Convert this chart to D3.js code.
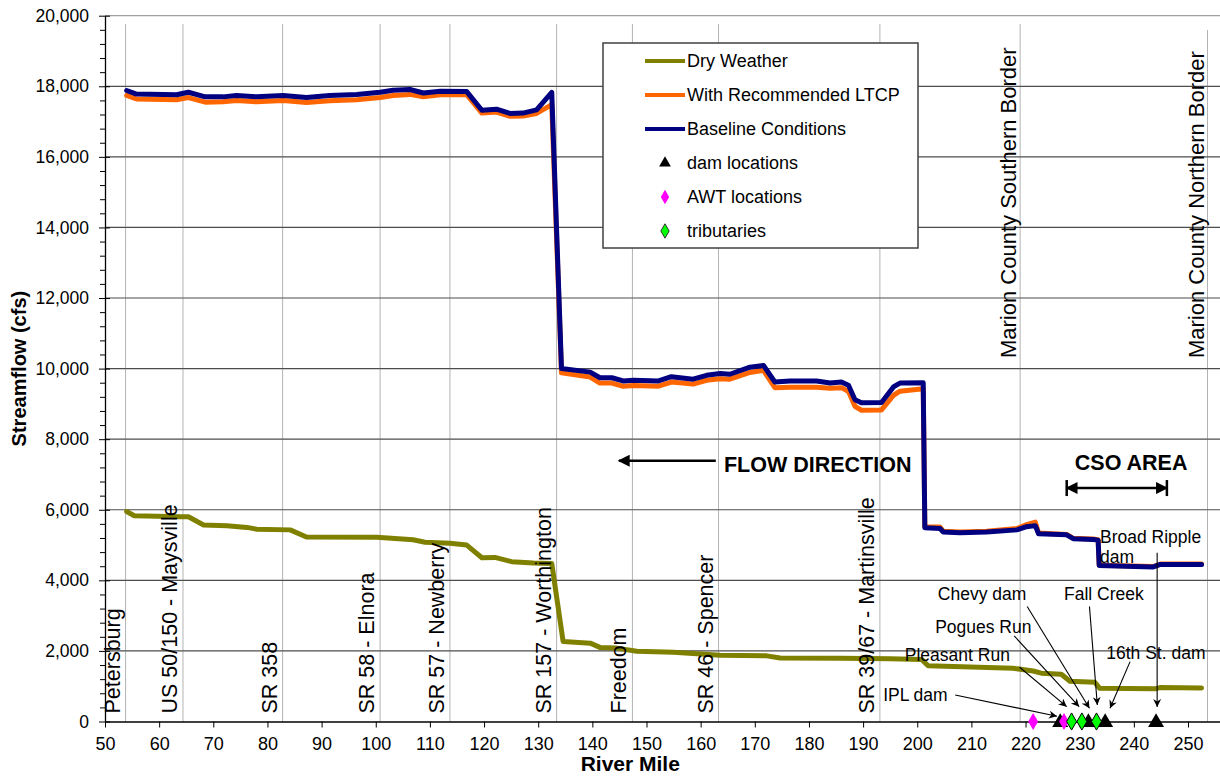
<!DOCTYPE html>
<html>
<head>
<meta charset="utf-8">
<script src="https://cdn.jsdelivr.net/npm/d3@7/dist/d3.min.js"></script>
<style>
  body { margin: 0; background: #fff; }
  svg text { font-family: "Liberation Sans", Arial, sans-serif; fill: #000; }
</style>
</head>
<body>
<div id="chart"></div>
<script>
// [river mile, streamflow cfs]
var baseline = [
  [54.0, 17880], [55.8, 17780], [63.2, 17760], [65.4, 17830], [68.5, 17700], [71.8, 17700],
  [74.3, 17740], [78.0, 17700], [82.9, 17740], [87.2, 17680], [91.5, 17740], [96.5, 17770],
  [100.8, 17830], [103.2, 17890], [106.3, 17910], [108.8, 17810], [111.9, 17860], [116.8, 17850],
  [119.6, 17320], [122.3, 17350], [124.8, 17230], [127.2, 17240], [129.7, 17330], [132.5, 17830],
  [134.3, 10000], [139.6, 9900], [141.4, 9740], [143.6, 9740], [145.7, 9650], [147.6, 9670],
  [152.2, 9650], [154.6, 9770], [158.6, 9700], [161.1, 9810], [163.6, 9860], [165.4, 9840],
  [169.1, 10040], [171.6, 10090], [173.7, 9620], [176.5, 9650], [181.4, 9650], [183.9, 9590],
  [186.0, 9620], [187.3, 9530], [188.5, 9120], [189.7, 9030], [193.4, 9040], [195.6, 9480],
  [196.8, 9590], [201.1, 9600], [201.4, 5490], [204.2, 5470], [204.8, 5370], [207.9, 5350],
  [212.8, 5370], [218.4, 5430], [220.2, 5520], [221.8, 5550], [222.4, 5320], [227.6, 5290],
  [228.8, 5180], [232.5, 5160], [233.4, 5140], [233.6, 4420], [243.6, 4380], [244.9, 4450],
  [252.5, 4450]
];

var ltcp = [
  [54.0, 17740], [55.8, 17640], [63.2, 17620], [65.4, 17680], [68.5, 17550], [71.8, 17560],
  [74.3, 17600], [78.0, 17560], [82.9, 17600], [87.2, 17540], [91.5, 17590], [96.5, 17620],
  [100.8, 17680], [103.2, 17740], [106.3, 17770], [108.8, 17700], [111.9, 17760], [116.8, 17760],
  [119.6, 17240], [122.3, 17270], [124.8, 17150], [127.2, 17160], [129.7, 17230], [132.5, 17480],
  [134.3, 9880], [139.6, 9760], [141.4, 9590], [143.6, 9590], [145.7, 9500], [147.6, 9520],
  [152.2, 9500], [154.6, 9620], [158.6, 9560], [161.1, 9670], [163.6, 9710], [165.4, 9700],
  [169.1, 9890], [171.6, 9950], [173.7, 9460], [176.5, 9470], [181.4, 9470], [183.9, 9440],
  [186.0, 9460], [187.3, 9350], [188.5, 8930], [189.7, 8820], [193.4, 8830], [195.6, 9240],
  [196.8, 9360], [201.1, 9430], [201.4, 5510], [204.2, 5510], [204.8, 5390], [207.9, 5370],
  [212.8, 5390], [218.4, 5470], [220.2, 5580], [221.8, 5650], [222.4, 5340], [227.6, 5300],
  [228.8, 5190], [232.5, 5170], [233.4, 5150], [233.6, 4430], [243.6, 4390], [244.9, 4460],
  [252.5, 4460]
];

var dryWeather = [
  [54.0, 5950], [55.4, 5830], [63.9, 5800], [65.4, 5800], [68.2, 5570], [72.5, 5550],
  [76.2, 5500], [78.0, 5450], [84.2, 5430], [87.2, 5230], [100.2, 5220], [106.9, 5150],
  [109.1, 5080], [113.7, 5050], [116.8, 5000], [119.6, 4640], [122.0, 4650], [125.1, 4530],
  [129.1, 4490], [132.5, 4480], [134.6, 2270], [139.6, 2220], [141.4, 2100], [144.5, 2080],
  [148.2, 1990], [155.0, 1960], [163.6, 1880], [172.2, 1860], [174.7, 1800], [185.8, 1790],
  [195.0, 1780], [200.8, 1760], [202.0, 1580], [217.7, 1510], [221.4, 1430], [222.9, 1370],
  [226.6, 1340], [228.2, 1140], [232.8, 1110], [233.7, 940], [243.9, 925], [244.8, 960],
  [252.5, 950]
];

var damMiles = [226.4, 231.6, 234.7, 244.1];
var awtMiles = [221.4, 227.1];
var tribMiles = [228.5, 230.4, 233.1];

var landmarks = [
  { mile: 53.8, name: "Petersburg" },
  { mile: 64.4, name: "US 50/150 - Maysville" },
  { mile: 82.8, name: "SR 358" },
  { mile: 100.8, name: "SR 58 - Elnora" },
  { mile: 113.7, name: "SR 57 - Newberry" },
  { mile: 133.4, name: "SR 157 - Worthington" },
  { mile: 147.4, name: "Freedom" },
  { mile: 163.3, name: "SR 46 - Spencer" },
  { mile: 193.1, name: "SR 39/67 - Martinsville" }
];
var borders = [
  { mile: 219.0, name: "Marion County Southern Border" },
  { mile: 253.6, name: "Marion County Northern Border" }
];

// callouts: label anchor, arrow start, arrow end (mile, cfs)
var callouts = [
  { text: ["IPL dam"], at: [193.7, 590], from: [207.0, 752], to: [225.8, 150] },
  { text: ["Pleasant Run"], at: [197.7, 1725], from: [218.9, 1538], to: [227.6, 420] },
  { text: ["Pogues Run"], at: [203.3, 2502], from: [217.9, 2426], to: [229.9, 420] },
  { text: ["Chevy dam"], at: [203.8, 3447], from: [220.3, 3257], to: [231.8, 374] },
  { text: ["Fall Creek"], at: [227.1, 3447], from: [231.8, 3257], to: [233.25, 468] },
  { text: ["16th St. dam"], at: [234.9, 1765], from: [239.3, 1696], to: [235.6, 374] },
  { text: ["Broad Ripple", "dam"], at: [233.75, 5055], from: [244.3, 4780], to: [244.3, 411] }
];

var legendItems = [
  { name: "Dry Weather", type: "line", color: "#808000" },
  { name: "With Recommended LTCP", type: "line", color: "#ff6600" },
  { name: "Baseline Conditions", type: "line", color: "#000080" },
  { name: "dam locations", type: "tri", color: "#000" },
  { name: "AWT locations", type: "dia", color: "#ff00ff" },
  { name: "tributaries", type: "dia", color: "#00ff00" }
];

var xTicks = d3.range(50, 251, 10);
var yTicks = d3.range(0, 20001, 2000);
var yMinor = d3.range(0, 20001, 400).filter(function (v) { return v % 2000 != 0; });

var margin = { top: 15.7, left: 105 },
  width = 1115.5,
  height = 705.8;

var svg = d3.select("#chart")
  .append("svg")
  .attr("width", 1220)
  .attr("height", 778);

var defs = svg.append("defs");
defs.append("marker")
  .attr("id", "tip")
  .attr("viewBox", "0 0 10 10")
  .attr("refX", 10).attr("refY", 5)
  .attr("markerWidth", 10).attr("markerHeight", 8)
  .attr("markerUnits", "userSpaceOnUse")
  .attr("orient", "auto")
  .append("path").attr("d", "M0,0 L10,5 L0,10 L3,5 z").attr("fill", "#000");
defs.append("marker")
  .attr("id", "bigTip")
  .attr("viewBox", "0 0 10 10")
  .attr("refX", 9).attr("refY", 5)
  .attr("markerWidth", 13).attr("markerHeight", 12)
  .attr("markerUnits", "userSpaceOnUse")
  .attr("orient", "auto-start-reverse")
  .append("path").attr("d", "M0,0 L10,5 L0,10 z").attr("fill", "#000");

var g = svg.append("g")
  .attr("transform", "translate(" + margin.left + "," + margin.top + ")");

var x = d3.scaleLinear().domain([50, 256]).range([0, width]);
var y = d3.scaleLinear().domain([0, 20000]).range([height, 0]);

// horizontal gridlines
g.selectAll(".grid")
  .data(yTicks.filter(function (v) { return v > 0; }))
  .enter()
  .append("line")
  .attr("x1", 0).attr("x2", width)
  .attr("y1", function (d) { return y(d); })
  .attr("y2", function (d) { return y(d); })
  .attr("stroke", function (d) { return d == 20000 ? "#a0a0a0" : "#4d4d4d"; })
  .attr("stroke-width", 1.2);

// dotted landmark lines
g.selectAll(".mark")
  .data(landmarks.concat(borders))
  .enter()
  .append("line")
  .attr("x1", function (d) { return x(d.mile); })
  .attr("x2", function (d) { return x(d.mile); })
  .attr("y1", y(0))
  .attr("y2", function (d) { return y(d.mile > 250 ? 19600 : 19750); })
  .attr("stroke", "#666")
  .attr("stroke-width", 1)
  .attr("stroke-dasharray", "1,1");

var line = d3.line()
  .x(function (d) { return x(d[0]); })
  .y(function (d) { return y(d[1]); });

[[dryWeather, "#808000"], [ltcp, "#ff6600"], [baseline, "#000080"]].forEach(function (s) {
  g.append("path")
    .datum(s[0])
    .attr("d", line)
    .attr("fill", "none")
    .attr("stroke", s[1])
    .attr("stroke-width", 5)
    .attr("stroke-linejoin", "round")
    .attr("stroke-linecap", "round");
});

// landmark labels
g.selectAll(".lmText")
  .data(landmarks)
  .enter()
  .append("text")
  .attr("transform", function (d) { return "translate(" + (x(d.mile) - 6) + "," + (height - 8) + ") rotate(-90)"; })
  .style("font-size", "21.5px")
  .text(function (d) { return d.name; });

g.selectAll(".bdText")
  .data(borders)
  .enter()
  .append("text")
  .attr("transform", function (d) { return "translate(" + (x(d.mile) - 4) + "," + (y(10300)) + ") rotate(-90)"; })
  .style("font-size", "22px")
  .text(function (d) { return d.name; });

// axes
var yAxis = g.append("g").call(d3.axisLeft(y).tickValues(yTicks).tickSizeOuter(0).tickPadding(10)
  .tickFormat(d3.format(",")));
yAxis.selectAll(".tick line").attr("x1", 5);
yAxis.selectAll("text").style("font-size", "17.5px");
g.append("g").call(d3.axisLeft(y).tickValues(yMinor).tickSize(5).tickFormat(""))
  .select(".domain").remove();

var xAxis = g.append("g")
  .attr("transform", "translate(0," + height + ")")
  .call(d3.axisBottom(x).tickValues(xTicks).tickSize(6).tickSizeOuter(0).tickPadding(10));
xAxis.selectAll("text").style("font-size", "18px");
svg.selectAll(".domain").attr("stroke", "#000").attr("stroke-width", 1.3);
svg.selectAll(".tick line").attr("stroke", "#000");

g.append("text")
  .attr("x", x(147))
  .attr("y", height + 50)
  .style("text-anchor", "middle")
  .style("font-size", "21px")
  .style("font-weight", "bold")
  .text("River Mile");

g.append("text")
  .attr("transform", "translate(" + (-79) + "," + y(10000) + ") rotate(-90)")
  .style("text-anchor", "middle")
  .style("font-size", "20px")
  .style("font-weight", "bold")
  .text("Streamflow (cfs)");

// flow direction
g.append("line")
  .attr("x1", x(162.8)).attr("x2", x(144.9))
  .attr("y1", y(7390)).attr("y2", y(7390))
  .attr("stroke", "#000").attr("stroke-width", 2.5)
  .attr("marker-end", "url(#bigTip)");
g.append("text")
  .attr("x", x(164.3)).attr("y", y(7078))
  .style("font-size", "21.5px").style("font-weight", "bold")
  .text("FLOW DIRECTION");

// CSO area
var csoY = y(6615);
g.append("line")
  .attr("x1", x(227.6)).attr("x2", x(246.1))
  .attr("y1", csoY).attr("y2", csoY)
  .attr("stroke", "#000").attr("stroke-width", 2.5)
  .attr("marker-start", "url(#bigTip)")
  .attr("marker-end", "url(#bigTip)");
[227.6, 246.1].forEach(function (m) {
  g.append("line")
    .attr("x1", x(m)).attr("x2", x(m))
    .attr("y1", csoY - 8).attr("y2", csoY + 8)
    .attr("stroke", "#000").attr("stroke-width", 2.5);
});
g.append("text")
  .attr("x", x(239.5)).attr("y", y(7120))
  .style("text-anchor", "middle")
  .style("font-size", "21.5px").style("font-weight", "bold")
  .text("CSO AREA");

// callouts
callouts.forEach(function (c) {
  g.append("line")
    .attr("x1", x(c.from[0])).attr("y1", y(c.from[1]))
    .attr("x2", x(c.to[0])).attr("y2", y(c.to[1]))
    .attr("stroke", "#000").attr("stroke-width", 1.1)
    .attr("marker-end", "url(#tip)");
  c.text.forEach(function (t, i) {
    g.append("text")
      .attr("x", x(c.at[0])).attr("y", y(c.at[1]) + i * 20)
      .style("font-size", "17.5px")
      .text(t);
  });
});

// point markers on the axis
var tri = d3.symbol().type(d3.symbolTriangle).size(110);
var dia = d3.symbol().type(d3.symbolDiamond).size(85);
g.selectAll(".dam")
  .data(damMiles)
  .enter()
  .append("path")
  .attr("d", tri)
  .attr("transform", function (d) { return "translate(" + x(d) + "," + (y(0) + 1) + ")"; })
  .attr("fill", "#000");
g.selectAll(".awt")
  .data(awtMiles)
  .enter()
  .append("path")
  .attr("d", dia)
  .attr("transform", function (d) { return "translate(" + x(d) + "," + y(0) + ")"; })
  .attr("fill", "#ff00ff");
g.selectAll(".trib")
  .data(tribMiles)
  .enter()
  .append("path")
  .attr("d", dia)
  .attr("transform", function (d) { return "translate(" + x(d) + "," + y(0) + ")"; })
  .attr("fill", "#00ff00")
  .attr("stroke", "#000")
  .attr("stroke-width", 1);

// legend
var legend = svg.append("g").attr("transform", "translate(603,43)");
legend.append("rect")
  .attr("width", 315).attr("height", 205)
  .attr("fill", "#fff")
  .attr("stroke", "#404040").attr("stroke-width", 1.5);
var rows = legend.selectAll(".row")
  .data(legendItems)
  .enter()
  .append("g")
  .attr("transform", function (d, i) { return "translate(0," + (18 + i * 34) + ")"; });
rows.filter(function (d) { return d.type == "line"; })
  .append("line")
  .attr("x1", 42).attr("x2", 82)
  .attr("stroke", function (d) { return d.color; })
  .attr("stroke-width", 4);
rows.filter(function (d) { return d.type == "tri"; })
  .append("path")
  .attr("d", d3.symbol().type(d3.symbolTriangle).size(60))
  .attr("transform", "translate(62,0)")
  .attr("fill", "#000");
rows.filter(function (d) { return d.type == "dia"; })
  .append("path")
  .attr("d", d3.symbol().type(d3.symbolDiamond).size(60))
  .attr("transform", "translate(62,0)")
  .attr("fill", function (d) { return d.color; })
  .attr("stroke", function (d) { return d.color == "#00ff00" ? "#333" : "none"; });
rows.append("text")
  .attr("x", 84)
  .attr("y", 6)
  .style("font-size", "18px")
  .text(function (d) { return d.name; });
</script>
</body>
</html>
